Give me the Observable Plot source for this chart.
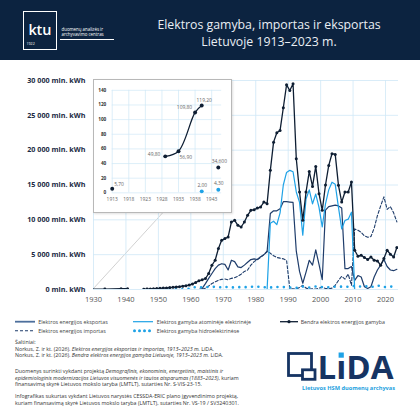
<!DOCTYPE html>
<html><head><meta charset="utf-8">
<script src="https://cdn.jsdelivr.net/npm/d3@7"></script>
<script src="https://cdn.jsdelivr.net/npm/@observablehq/plot@0.6"></script>
<style>
body{margin:0;background:#fff;font-family:"Open Sans",sans-serif;}
#page{position:relative;width:420px;height:420px;overflow:hidden;background:#fff;}
#header{position:absolute;left:0;top:0;width:420px;height:60px;background:#0c2340;}
.abs{position:absolute;white-space:nowrap;}
#main{position:absolute;left:0;top:60px;}
#inset{position:absolute;left:93px;top:79px;width:139px;height:134px;background:#fff;border:1px solid #b8b8b8;box-sizing:border-box;box-shadow:1px 1px 2px rgba(0,0,0,0.12);}
#inset svg{position:absolute;left:-1px;top:-1px;}
.cap{position:absolute;left:15px;font-size:5.3px;line-height:5.8px;color:#333;white-space:nowrap;}
</style></head>
<body><div id="page">
<div id="header">
  <div class="abs" style="left:23px;top:11px;width:34px;height:39px;border:1.3px solid #fff;box-sizing:border-box;"></div>
  <div class="abs" style="left:28.5px;top:20px;font-size:14.5px;font-weight:600;color:#fff;line-height:20px;letter-spacing:-0.2px;">ktu</div>
  <div class="abs" style="left:26.5px;top:41.5px;font-size:3.6px;color:#fff;line-height:4px;">1922</div>
  <div class="abs" style="left:61.5px;top:26.5px;font-size:4.4px;color:#fff;line-height:5px;">duomenų analizės ir<br>archyvavimo centras</div>
  <div class="abs" style="left:60px;top:38.5px;width:54px;height:0.8px;background:#fff;"></div>
  <div class="abs" style="left:120px;top:17px;width:298px;text-align:center;font-size:12.3px;line-height:16.5px;color:#e9eef4;">Elektros gamyba, importas ir eksportas<br>Lietuvoje 1913–2023 m.</div>
</div>
<div id="main"></div>
<div id="inset"></div>
<svg id="legend" class="abs" style="left:0;top:310px;" width="420" height="28"></svg>
<div class="cap" style="top:340.2px;">Šaltiniai:</div>
<div class="cap" style="top:346.6px;">Norkus, Z. ir kt. (2026). <i>Elektros energijos eksportas ir importas, 1913–2023 m.</i> LiDA.</div>
<div class="cap" style="top:353.3px;">Norkus, Z. ir kt. (2026). <i>Bendra elektros energijos gamyba Lietuvoje, 1913–2023 m.</i> LiDA.</div>
<div class="cap" style="top:368.8px;">Duomenys surinkti vykdant projektą <i>Demografinis, ekonominis, energetinis, maistinis ir</i></div>
<div class="cap" style="top:375.5px;"><i>epidemiologinis modernizacijos Lietuvos visuomenės ir tautos atsparumas (1883–2023)</i>, kuriam</div>
<div class="cap" style="top:382.2px;">finansavimą skyrė Lietuvos mokslo taryba (LMTLT), sutarties Nr. S-VIS-23-15.</div>
<div class="cap" style="top:393.8px;">Infografikas sukurtas vykdant Lietuvos narystės CESSDA-ERIC plano įgyvendinimo projektą,</div>
<div class="cap" style="top:400.5px;">kuriam finansavimą skyrė Lietuvos mokslo taryba (LMTLT), sutarties Nr. VS-19 / SV3240301.</div>
<svg id="lida" class="abs" style="left:280px;top:345px;" width="135" height="50"></svg>
</div>
<script>
// ---------- DATA (mln. kWh) ----------
// Early sparse records (shown in the inset)
const earlyYears = [1913, 1929, 1933, 1938, 1940, 1945];
const earlyTotal = [5.7, 49.8, 56.9, 109.8, 119.2, 34.6];
const earlyTotalLabels = ["5,70", "49,80", "56,90", "109,80", "119,20", "34,600"];
const earlyBreaksAfter = [1913, 1940]; // records not connected after these years
const earlyHydroYears = [1940, 1945];
const earlyHydro = [2.0, 4.3];
const earlyHydroLabels = ["2,00", "4,30"];

// Annual series
const annualStart = 1946;
const totalAnnual = [60, 85, 110, 140, 170, 200, 230, 270, 310, 360, 410, 470, 540, 640,
  800, 1000, 1250, 1400, 1580, 2290, 3480, 4200, 5880, 7060, 7310, 7540, 9690, 9930, 9210, 8970,
  9690, 10650, 11360, 11460, 11690, 11840, 12550, 12320, 17100, 21150, 22500, 22830, 26090, 29380,
  28570, 29530, 18770, 13990, 9930, 13990, 16950, 14800, 17670, 13760, 11360, 15000, 17810, 19490,
  19390, 14950, 12550, 13990, 13990, 15420, 5630, 4770, 4920, 4590, 4300, 4670, 4200, 4100, 3480,
  4440, 5630, 5060, 4670, 6020];
const hydroAnnual = [6, 8, 10, 12, 14, 16, 18, 20, 22, 25, 28, 30, 35, 120,
  300, 330, 370, 310, 350, 380, 360, 400, 340, 300, 380, 330, 290, 320, 360, 300,
  310, 380, 420, 360, 400, 390, 330, 310, 280, 380, 360, 370, 350, 330,
  300, 280, 250, 300, 420, 330, 280, 320, 430, 360, 340, 320, 320, 330,
  420, 450, 400, 420, 400, 420, 540, 480, 420, 520, 410, 350, 450, 600, 430,
  340, 380, 450, 330, 380];
const tradeStart = 1960;
const exportAnnual = [0, 0, 0, 150, 850, 1600, 2300, 3000, 3500, 3700, 3600, 2800, 4200, 4000,
  3250, 3150, 3500, 3900, 4300, 4400, 4300, 4700, 5000, 5400, 10900, 11300, 11300, 11600, 12600,
  12600, 12550, 12500, 5500, 2600, 900, 2500, 4200, 3500, 5700, 3600, 1400, 11400, 11900, 12000,
  12100, 12000, 11700, 3000, 3000, 3300, 1300, 2000, 1800, 400, 150, 400, 1800, 2800, 3500, 4300,
  3300, 2800, 2700, 2900];
const importAnnual = [0, 0, 0, 50, 200, 500, 860, 1100, 1330, 1450, 1500, 1400, 1600, 1700,
  1900, 2200, 2600, 2800, 3500, 4000, 4300, 4600, 5000, 5500, 5200, 4850, 4600, 4500, 4400,
  4200, 150, 100, 50, 300, 600, 200, 50, 100, 50, 200, 300, 150, 100, 200,
  600, 1300, 1900, 1500, 2200, 600, 8700, 8500, 8200, 7700, 7500, 7600, 8800, 10600, 12000, 13300,
  11500, 11900, 11000, 9700];
const nuclearStart = 1983;
const nuclearAnnual = [0, 9500, 9800, 9300, 11000, 15000, 16800, 17100, 16900, 14000, 12500, 7800,
  13000, 14300, 12300, 13700, 11800, 9000, 12300, 14300, 15400, 15100, 11800, 8700, 9900, 10100,
  11100, 0];

const xTicks = [1930, 1940, 1950, 1960, 1970, 1980, 1990, 2000, 2010, 2020];
const yTicks = [0, 5000, 10000, 15000, 20000, 25000, 30000];
const insetXTicks = [1913, 1918, 1923, 1928, 1933, 1938, 1943];
const insetYTicks = [0, 20, 40, 60, 80, 100, 120, 140];

// ---------- helpers ----------
const cDark = "#0e1e33", cNavy = "#1f3d6b", cLight = "#1ea2e6", cGrid = "#cfe7f6";
function earlyRows(years, vals) {
  const rows = [];
  years.forEach((y, i) => {
    rows.push({year: y, v: vals[i]});
    if (earlyBreaksAfter.includes(y)) rows.push({year: y + 1, v: null});
  });
  return rows;
}
const annual = (start, vals) => vals.map((v, i) => ({year: start + i, v}));
const totalRows = earlyRows(earlyYears, earlyTotal).concat(annual(annualStart, totalAnnual));
const hydroRows = earlyRows(earlyHydroYears, earlyHydro).concat(annual(annualStart, hydroAnnual));
const exportRows = annual(tradeStart, exportAnnual);
const importRows = annual(tradeStart, importAnnual);
const nuclearRows = annual(nuclearStart, nuclearAnnual);
const mid = d => d.year + 0.5; // value plotted at the middle of its year
const fmtY = v => d3.format(",")(v).replace(/,/g, " ") + " mln. kWh";
const font = '"Open Sans", sans-serif';

// ---------- main chart ----------
const main = Plot.plot({
  width: 420, height: 249,
  marginTop: 20, marginBottom: 20, marginLeft: 93, marginRight: 22,
  style: {fontFamily: font, background: "transparent", overflow: "visible"},
  x: {domain: [1930, 2024], label: null},
  y: {domain: [0, 30000], label: null},
  marks: [
    Plot.ruleX(xTicks, {stroke: cGrid, strokeWidth: 0.8}),
    Plot.ruleY(yTicks, {stroke: cGrid, strokeWidth: 0.8}),
    Plot.axisX(xTicks, {tickSize: 0, tickPadding: 7, fontSize: 7.5, fill: "#555", tickFormat: d => String(d)}),
    Plot.axisY(yTicks, {tickSize: 0, tickPadding: 8, fontSize: 7.2, fill: "#1b2a43", tickFormat: fmtY}),
    Plot.line(importRows, {x: mid, y: "v", stroke: cNavy, strokeWidth: 1.1, strokeDasharray: "3,2", clip: true}),
    Plot.line(exportRows, {x: mid, y: "v", stroke: cNavy, strokeWidth: 1.2, clip: true}),
    Plot.line(nuclearRows, {x: mid, y: "v", stroke: cLight, strokeWidth: 1.2, clip: true}),
    Plot.line(hydroRows, {x: mid, y: "v", stroke: cLight, strokeWidth: 2.6, strokeDasharray: "0,6.4", strokeLinecap: "round", clip: true}),
    Plot.line(totalRows, {x: mid, y: "v", stroke: cDark, strokeWidth: 1.3, clip: true}),
    Plot.dot(totalRows.filter(d => d.v != null), {x: mid, y: "v", r: 1.5, fill: cDark, clip: true})
  ]
});
document.getElementById("main").appendChild(main);
d3.select(main).selectAll('g[aria-label="y-axis tick label"] text').attr("font-weight", 700);

// connector from the origin of the main chart to the inset box
{
  const sx = main.scale("x"), sy = main.scale("y");
  const box = {left: 93, top: 79, width: 139, height: 134};
  d3.select(main).append("line")
    .attr("x1", sx.apply(1930)).attr("y1", sy.apply(0))
    .attr("x2", box.left + box.width / 2).attr("y2", box.top + box.height - 60)
    .attr("stroke", "#bdbdbd").attr("stroke-width", 0.7)
    .lower();
}

// ---------- inset ----------
const insetTotalRows = earlyRows(earlyYears, earlyTotal);
const insetTotalPts = earlyYears.map((y, i) => ({year: y, v: earlyTotal[i], label: earlyTotalLabels[i]}));
const insetHydroPts = earlyHydroYears.map((y, i) => ({year: y, v: earlyHydro[i], label: earlyHydroLabels[i]}));
const labelPlacement = {
  "5,70": {textAnchor: "start", dx: 2, dy: -4},
  "49,80": {textAnchor: "end", dx: -5, dy: -1.5},
  "56,90": {textAnchor: "start", dx: 1, dy: 6},
  "109,80": {textAnchor: "end", dx: -3, dy: -5.5},
  "119,20": {textAnchor: "middle", dx: 2.5, dy: -5},
  "34,600": {textAnchor: "middle", dx: 1, dy: -6},
  "2,00": {textAnchor: "middle", dx: 0.5, dy: -6.5},
  "4,30": {textAnchor: "middle", dx: 0.5, dy: -6}
};
const labelMarks = insetTotalPts.concat(insetHydroPts).map(p =>
  Plot.text([p], {x: "year", y: "v", text: "label", fontSize: 5, fill: "#666", ...labelPlacement[p.label]}));
const inset = Plot.plot({
  width: 139, height: 134,
  marginTop: 11, marginBottom: 19, marginLeft: 19, marginRight: 9,
  style: {fontFamily: font, background: "transparent", overflow: "visible"},
  x: {domain: [1913, 1946], label: null},
  y: {domain: [0, 140], label: null},
  marks: [
    Plot.ruleX(insetXTicks, {stroke: cGrid, strokeWidth: 0.7}),
    Plot.ruleY(insetYTicks, {stroke: cGrid, strokeWidth: 0.7}),
    Plot.axisX(insetXTicks, {tickSize: 0, tickPadding: 5, fontSize: 5, fill: "#666", tickFormat: d => String(d)}),
    Plot.axisY(insetYTicks, {tickSize: 0, tickPadding: 6, fontSize: 4.8, fill: "#333", tickFormat: d => String(d)}),
    Plot.line(insetTotalRows, {x: "year", y: "v", stroke: cDark, strokeWidth: 1.3, curve: "catmull-rom"}),
    Plot.dot(insetTotalPts, {x: "year", y: "v", r: 2, fill: cDark}),
    Plot.dot(insetHydroPts, {x: "year", y: "v", r: 2, fill: cLight}),
    ...labelMarks
  ]
});
document.getElementById("inset").appendChild(inset);
d3.select(inset).selectAll('g[aria-label="y-axis tick label"] text').attr("font-weight", 700);

// ---------- legend ----------
{
  const lg = d3.select("#legend");
  const r1 = 11.7, r2 = 20.7;
  lg.append("line").attr("x1", 15).attr("x2", 35).attr("y1", r1).attr("y2", r1).attr("stroke", "#4d6f9c").attr("stroke-width", 1.8);
  lg.append("line").attr("x1", 15).attr("x2", 35).attr("y1", r2).attr("y2", r2).attr("stroke", cNavy).attr("stroke-width", 1.1).attr("stroke-dasharray", "3,2");
  lg.append("line").attr("x1", 133).attr("x2", 153).attr("y1", r1).attr("y2", r1).attr("stroke", cLight).attr("stroke-width", 1.2);
  [134.5, 139.5, 144.5, 149.5].forEach(x => lg.append("circle").attr("cx", x).attr("cy", r2).attr("r", 1.5).attr("fill", cLight));
  lg.append("line").attr("x1", 280).attr("x2", 298).attr("y1", r1).attr("y2", r1).attr("stroke", cDark).attr("stroke-width", 1.3);
  lg.append("circle").attr("cx", 289).attr("cy", r1).attr("r", 1.6).attr("fill", cDark);
  const items = [
    [38.3, r1, "Elektros energijos eksportas"], [156.7, r1, "Elektros gamyba atominėje elektrinėje"],
    [300.7, r1, "Bendra elektros energijos gamyba"], [38.3, r2, "Elektros energijos importas"],
    [156.7, r2, "Elektros gamyba hidroelektrinėse"]];
  items.forEach(([x, y, t]) => lg.append("text").attr("x", x).attr("y", y).attr("dy", "0.35em")
    .attr("font-size", 5.3).attr("fill", "#444").attr("font-family", font).text(t));
}

// ---------- LiDA logo ----------
{
  const g = d3.select("#lida");
  const navy = "#163463";
  g.append("rect").attr("x", 8.5).attr("y", 8.5).attr("width", 23).attr("height", 22).attr("fill", "none").attr("stroke", navy).attr("stroke-width", 2.8);
  g.append("rect").attr("x", 22.5).attr("y", 24.8).attr("width", 12.5).attr("height", 9.5).attr("fill", "#fff").attr("stroke", navy).attr("stroke-width", 2.8);
  const t = g.append("text").attr("x", 37.5).attr("y", 33.5).attr("font-size", 33).attr("font-weight", 700)
    .attr("font-family", font).attr("fill", navy)
    .attr("textLength", 76).attr("lengthAdjust", "spacingAndGlyphs").text("LıDA");
  const ext = t.node().getExtentOfChar(1);
  g.append("rect").attr("x", ext.x + ext.width / 2 - 2.6).attr("y", 7.5).attr("width", 5.2).attr("height", 5.2).attr("fill", cLight);
  g.append("text").attr("x", 22).attr("y", 43.2).attr("dy", "0.35em").attr("font-size", 5.8).attr("font-weight", 700)
    .attr("font-family", font).attr("fill", "#1d9fe0")
    .attr("textLength", 93).attr("lengthAdjust", "spacingAndGlyphs").text("Lietuvos HSM duomenų archyvas");
}
</script>
</body></html>
